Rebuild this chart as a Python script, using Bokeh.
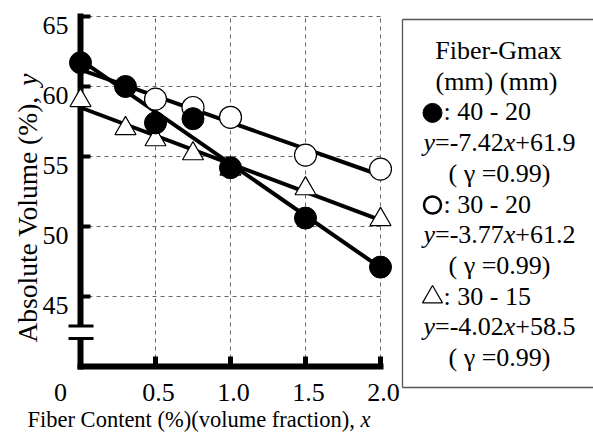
import math
from bokeh.plotting import figure
from bokeh.models import Range1d
from bokeh.core.properties import value
from bokeh.embed import file_html
from bokeh.resources import INLINE

# ---------------- data ----------------
x_black = [0.0, 0.3, 0.5, 0.75, 1.0, 1.5, 2.0]
y_black = [61.7, 60.0, 57.4, 57.7, 54.2, 50.6, 47.1]
x_white = [0.5, 0.75, 1.0, 1.5, 2.0]
y_white = [59.1, 58.5, 57.8, 55.1, 54.1]
x_tri = [0.0, 0.3, 0.5, 0.75, 1.0, 1.5, 2.0]
y_tri = [59.0, 57.0, 56.2, 55.2, 54.1, 52.7, 50.5]

series_names = ["40 - 20", "30 - 20", "30 - 15"]
slopes = [-7.42, -3.77, -4.02]
intercepts = [61.9, 61.2, 58.5]
gammas = [0.99, 0.99, 0.99]
fit_x = [0.0, 2.0]

x_ticks = [0.5, 1.0, 1.5, 2.0]
x_tick_labels = ["0.5", "1.0", "1.5", "2.0"]
x_zero_label = "0"
y_ticks = [45, 50, 55, 60, 65]
y_tick_labels = ["45", "50", "55", "60", "65"]
x_title = "Fiber Content (%)(volume fraction), "
x_title_var = "x"
y_title = "Absolute Volume (%), "
y_title_var = "y"
legend_head = ["Fiber-Gmax", "(mm) (mm)"]

# ---------------- layout (canvas pixels) ----------------
FONT = "Liberation Serif"
W, H = 593, 432
X_MIN, X_MAX = 0.0, 2.0
Y_MIN, Y_MAX = 40.0, 65.0
PX_X0, PX_X1 = 80, 380     # pixel columns of X_MIN / X_MAX
PY_Y0, PY_Y1 = 366, 16     # pixel rows of Y_MIN / Y_MAX
KX = (X_MAX - X_MIN) / (PX_X1 - PX_X0)   # data units per pixel
KY = (Y_MAX - Y_MIN) / (PY_Y0 - PY_Y1)
BREAK_LO, BREAK_HI = 42.0, 42.9


def px(xp):
    return X_MIN + (xp - PX_X0) * KX


def py(yp):
    return Y_MIN + (PY_Y0 - yp) * KY


p = figure(width=W, height=H,
           x_range=Range1d(px(0), px(W)), y_range=Range1d(py(H), py(0)),
           x_axis_type=None, y_axis_type=None,
           output_backend="svg", toolbar_location=None, min_border=0)
p.min_border_left = p.min_border_right = p.min_border_top = p.min_border_bottom = 0
p.outline_line_color = None
p.grid.visible = False
p.background_fill_color = "white"
p.border_fill_color = "white"

# grid
nx, ny = len(x_ticks), len(y_ticks)
p.segment(x0=x_ticks, y0=[Y_MIN] * nx, x1=x_ticks, y1=[Y_MAX] * nx,
          line_color="#666666", line_dash="4 4", line_width=1)
p.segment(x0=[X_MIN] * ny, y0=y_ticks, x1=[X_MAX] * ny, y1=y_ticks,
          line_color="#666666", line_dash="4 4", line_width=1)

# axes lines (y axis with a break)
p.segment(x0=[X_MIN - 3 * KX], y0=[Y_MIN], x1=[X_MAX + 3 * KX], y1=[Y_MIN],
          line_color="black", line_width=6)
p.segment(x0=[X_MIN, X_MIN], y0=[Y_MIN - 3 * KY, BREAK_HI], x1=[X_MIN, X_MIN], y1=[BREAK_LO, Y_MAX + 3 * KY],
          line_color="black", line_width=6)
p.segment(x0=[X_MIN - 12 * KX] * 2, y0=[BREAK_LO, BREAK_HI], x1=[X_MIN + 13 * KX] * 2, y1=[BREAK_LO, BREAK_HI],
          line_color="black", line_width=3)
# inward ticks
p.segment(x0=[X_MIN] * ny, y0=y_ticks, x1=[X_MIN + 10 * KX] * ny, y1=y_ticks,
          line_color="black", line_width=4)
p.segment(x0=x_ticks, y0=[Y_MIN] * nx, x1=x_ticks, y1=[Y_MIN + 10 * KY] * nx,
          line_color="black", line_width=5)

# regression lines
for m, b in zip(slopes, intercepts):
    p.line(fit_x, [b + m * xv for xv in fit_x], line_width=4, line_color="black")

# markers
p.scatter(x_tri, y_tri, marker="triangle", size=21, fill_color="white", line_color="black", line_width=1.2)
p.scatter(x_white, y_white, marker="circle", size=22, fill_color="white", line_color="black", line_width=1.2)
p.scatter(x_black, y_black, marker="circle", size=22, fill_color="black", line_color="black")


def txt(x, y, s, size, italic=False, align="left", angle=0.0):
    p.text(x=x if isinstance(x, list) else [x], y=y if isinstance(y, list) else [y],
           text=s if isinstance(s, list) else [s],
           text_font=value(FONT), text_font_size=value(f"{size}px"),
           text_font_style=value("italic" if italic else "normal"),
           text_align=align, text_baseline="middle", angle=angle, text_color="black")


TW = {' ': 250, '(': 333, ')': 333, '%': 833, ',': 250, '-': 333, '.': 250, ':': 278,
      '=': 564, '+': 564, 'x': 500, 'y': 500,
      'A': 722, 'C': 667, 'F': 556, 'V': 722, 'a': 444, 'b': 500, 'c': 444, 'e': 444,
      'f': 333, 'i': 278, 'l': 278, 'm': 778, 'n': 500, 'o': 500, 'r': 333, 's': 389,
      't': 278, 'u': 500, 'v': 500}
for d in "0123456789":
    TW[d] = 500
TW_IT = {'x': 444, 'y': 444}


def twidth(s, size, italic=False):
    tab = TW_IT if italic else {}
    return sum(tab.get(c, TW.get(c, 500)) for c in s) * size / 1000.0


# tick labels
TS = 26
txt([X_MIN - 12 * KX] * ny, [v - 9 * KY for v in y_ticks], y_tick_labels, TS, align="right")
txt([v + 3 * KX for v in x_ticks], [Y_MIN - 26 * KY] * nx, x_tick_labels, TS, align="center")
txt(X_MIN - 20 * KX, Y_MIN - 26 * KY, x_zero_label, TS, align="center")

# axis titles
XT = 22.5
XT_Y = 419
txt(px(27), py(XT_Y), x_title, XT)
txt(px(27 + twidth(x_title, XT)), py(XT_Y), x_title_var, XT, italic=True)
YT = 27.5
y0t = 342
txt(px(27), py(y0t), y_title, YT, angle=math.pi / 2)
txt(px(27), py(y0t - twidth(y_title, YT)), y_title_var, YT, italic=True, angle=math.pi / 2)

# legend box (open at the right, runs off the canvas)
BOX_L, BOX_T, BOX_B, BOX_R = 402, 19, 387, 640
p.segment(x0=[px(BOX_L), px(BOX_L), px(BOX_L)], y0=[py(BOX_T), py(BOX_T), py(BOX_B)],
          x1=[px(BOX_R), px(BOX_L), px(BOX_R)], y1=[py(BOX_T), py(BOX_B), py(BOX_B)],
          line_color="#555555", line_width=1.3)

LS = 26
row0, step = 50, 30.7      # vertical centres of the legend text rows
CX = 498
SYM_X = 432
txt(px(CX), py(row0), legend_head[0], LS, align="center")
txt(px(CX - 2), py(row0 + step), legend_head[1], LS, align="center")
row = 2
sym_styles = [dict(marker="circle", fill_color="black", line_width=1, size=19),
              dict(marker="circle", fill_color="white", line_width=2.5, size=17),
              dict(marker="triangle", fill_color="white", line_width=1.2, size=20)]
for st, name, m, b, g in zip(sym_styles, series_names, slopes, intercepts, gammas):
    cy = row0 + step * row
    p.scatter([px(SYM_X)], [py(cy + 1)], line_color="black", **st)
    txt(px(SYM_X + 11), py(cy), f": {name}", LS)
    segs = [("y", True), (f"={m:.2f}", False), ("x", True), (f"+{b:.1f}", False)]
    total = sum(twidth(t, LS, it) for t, it in segs)
    cur = CX + 1 - total / 2
    for t, it in segs:
        txt(px(cur), py(cy + step), t, LS, italic=it)
        cur += twidth(t, LS, it)
    txt(px(CX + 1), py(cy + 2 * step), f"( \u03b3 ={g:.2f})", LS, align="center")
    row += 3

open("out.html", "w").write(file_html(p, INLINE))
